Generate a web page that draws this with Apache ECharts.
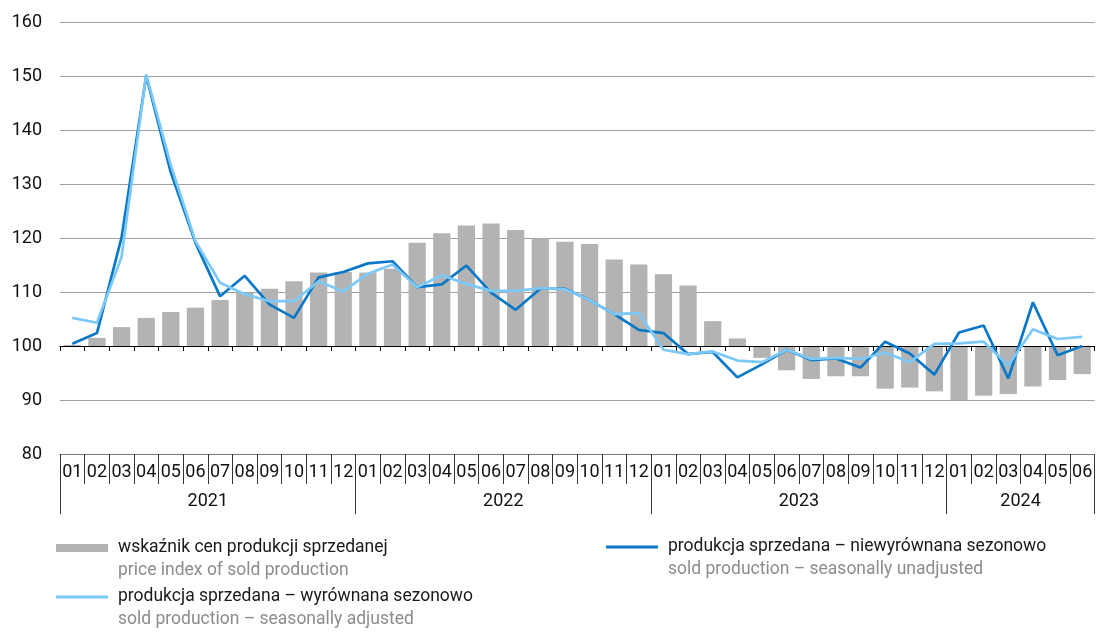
<!DOCTYPE html>
<html>
<head>
<meta charset="utf-8">
<script src="https://cdn.jsdelivr.net/npm/echarts@6/dist/echarts.min.js"></script>
<style>html,body{margin:0;padding:0;background:#fff}#c{width:1098px;height:634px}</style>
</head>
<body>
<div id="c"></div>
<script>
// ---- data ----
const months = ['01','02','03','04','05','06','07','08','09','10','11','12',
                '01','02','03','04','05','06','07','08','09','10','11','12',
                '01','02','03','04','05','06','07','08','09','10','11','12',
                '01','02','03','04','05','06'];
const years = ['2021','2022','2023','2024'];
const monthsPerYear = [12,12,12,6];
const yTicks = [80,90,100,110,120,130,140,150,160];
const baseValue = 100;

const priceIndex = [100.2,101.5,103.5,105.2,106.3,107.1,108.5,109.8,110.6,112.0,113.6,113.7,
                    113.6,114.3,119.1,120.9,122.3,122.7,121.5,119.9,119.3,118.9,116.0,115.1,
                    113.3,111.2,104.6,101.4,97.8,95.5,93.9,94.4,94.4,92.1,92.3,91.6,
                    90.0,90.8,91.1,92.5,93.7,94.8];
const unadjusted = [100.4,102.4,120.1,150.0,132.1,119.1,109.2,113.0,107.7,105.2,112.7,113.7,
                    115.3,115.7,110.9,111.4,114.9,109.9,106.7,110.6,110.6,108.5,105.9,103.0,
                    102.4,98.5,98.9,94.2,96.6,99.3,97.4,97.7,96.0,100.8,98.6,94.7,
                    102.5,103.8,94.0,108.1,98.3,100.0];
const adjusted = [105.2,104.3,116.5,150.3,133.5,119.4,111.7,109.6,108.3,108.3,112.0,110.1,
                  113.4,115.1,110.9,113.1,111.5,110.2,110.2,110.7,110.5,108.5,105.9,106.1,
                  99.3,98.5,99.0,97.3,97.0,99.3,97.6,97.8,97.6,98.8,97.0,100.4,
                  100.5,100.8,96.4,103.1,101.3,101.7];

const namesPL = ['wskaźnik cen produkcji sprzedanej',
                 'produkcja sprzedana – niewyrównana sezonowo',
                 'produkcja sprzedana – wyrównana sezonowo'];
const namesEN = ['price index of sold production',
                 'sold production – seasonally unadjusted',
                 'sold production – seasonally adjusted'];

// ---- derived ----
const rel = a => a.map(v => +(v - baseValue).toFixed(2));
const yearBounds = [0];
monthsPerYear.forEach(n => yearBounds.push(yearBounds[yearBounds.length-1] + n));
const yearCenters = monthsPerYear.map((n,i) => yearBounds[i] + n/2);
const totalMonths = months.length;

const FONT = 'Roboto';
const C_BAR = '#b3b3b3', C_DARK = '#0a78c6', C_LIGHT = '#7cc8f6';

const legendFmt = name => {
  const i = namesPL.indexOf(name);
  return '{e| }\n{a|' + namesPL[i] + '}\n{b|' + namesEN[i] + '}';
};
const legendRich = {
  e: {fontSize: 17.5, lineHeight: 23, fontFamily: FONT},
  a: {fontSize: 17.5, lineHeight: 23, color: '#1a1a1a', fontFamily: FONT},
  b: {fontSize: 17.5, lineHeight: 23, color: '#8c8c8c', fontFamily: FONT}
};
function mkLegend(name, left, top, h) {
  return {
    data: [name], left: left, top: top, padding: 0, orient: 'horizontal',
    icon: 'rect', itemWidth: 52, itemHeight: h, selectedMode: false,
    formatter: legendFmt,
    textStyle: {rich: legendRich, padding: [0,0,0,5], fontFamily: FONT}
  };
}

const chart = echarts.init(document.getElementById('c'), null, {renderer: 'canvas'});
chart.setOption({
  animation: false,
  backgroundColor: '#fff',
  textStyle: {fontFamily: FONT},
  grid: {left: 60, right: 3.5, top: 22, bottom: 180, containLabel: false},
  legend: [
    mkLegend(namesPL[0], 56, 516, 8),
    mkLegend(namesPL[1], 606, 515, 3),
    mkLegend(namesPL[2], 56, 565, 3)
  ],
  xAxis: [
    { // baseline axis at 100
      type: 'category', data: months, position: 'bottom',
      axisLine: {onZero: true, lineStyle: {color: '#000', width: 1.2}},
      axisTick: {show: true, length: 5, alignWithLabel: false, lineStyle: {color: '#000', width: 1}},
      axisLabel: {show: false}, splitLine: {show: false}, z: 3
    },
    { // months row
      type: 'category', data: months, position: 'bottom',
      axisLine: {onZero: false, lineStyle: {color: '#777', width: 1}},
      axisTick: {show: true, length: 30, alignWithLabel: false, lineStyle: {color: '#333', width: 1}},
      axisLabel: {margin: 9, fontSize: 18, color: '#111', fontFamily: FONT, interval: 0},
      splitLine: {show: false}
    },
    { // years row
      type: 'value', min: 0, max: totalMonths, position: 'bottom',
      axisLine: {show: false, onZero: false},
      splitLine: {show: false},
      axisTick: {show: true, customValues: yearBounds, length: 60, lineStyle: {color: '#333', width: 1}},
      axisLabel: {customValues: yearCenters, margin: 38, fontSize: 18, color: '#111', fontFamily: FONT,
                  formatter: v => years[yearCenters.indexOf(v)]}
    }
  ],
  yAxis: {
    type: 'value', min: yTicks[0] - baseValue, max: yTicks[yTicks.length-1] - baseValue, interval: yTicks[1]-yTicks[0],
    axisLine: {show: false}, axisTick: {show: false},
    axisLabel: {margin: 18, fontSize: 18, color: '#111', fontFamily: FONT, formatter: v => String(v + baseValue)},
    splitLine: {lineStyle: {color: '#a0a0a0', width: 1.2}}
  },
  series: [
    {name: namesPL[0], type: 'bar', xAxisIndex: 0, data: rel(priceIndex), barWidth: '70%',
     itemStyle: {color: C_BAR}, z: 2},
    {name: namesPL[1], type: 'line', xAxisIndex: 0, data: rel(unadjusted), symbol: 'none',
     lineStyle: {color: C_DARK, width: 2.7}, itemStyle: {color: C_DARK}, z: 4},
    {name: namesPL[2], type: 'line', xAxisIndex: 0, data: rel(adjusted), symbol: 'none',
     lineStyle: {color: C_LIGHT, width: 2.7}, itemStyle: {color: C_LIGHT}, z: 5}
  ]
});
</script>
</body>
</html>
